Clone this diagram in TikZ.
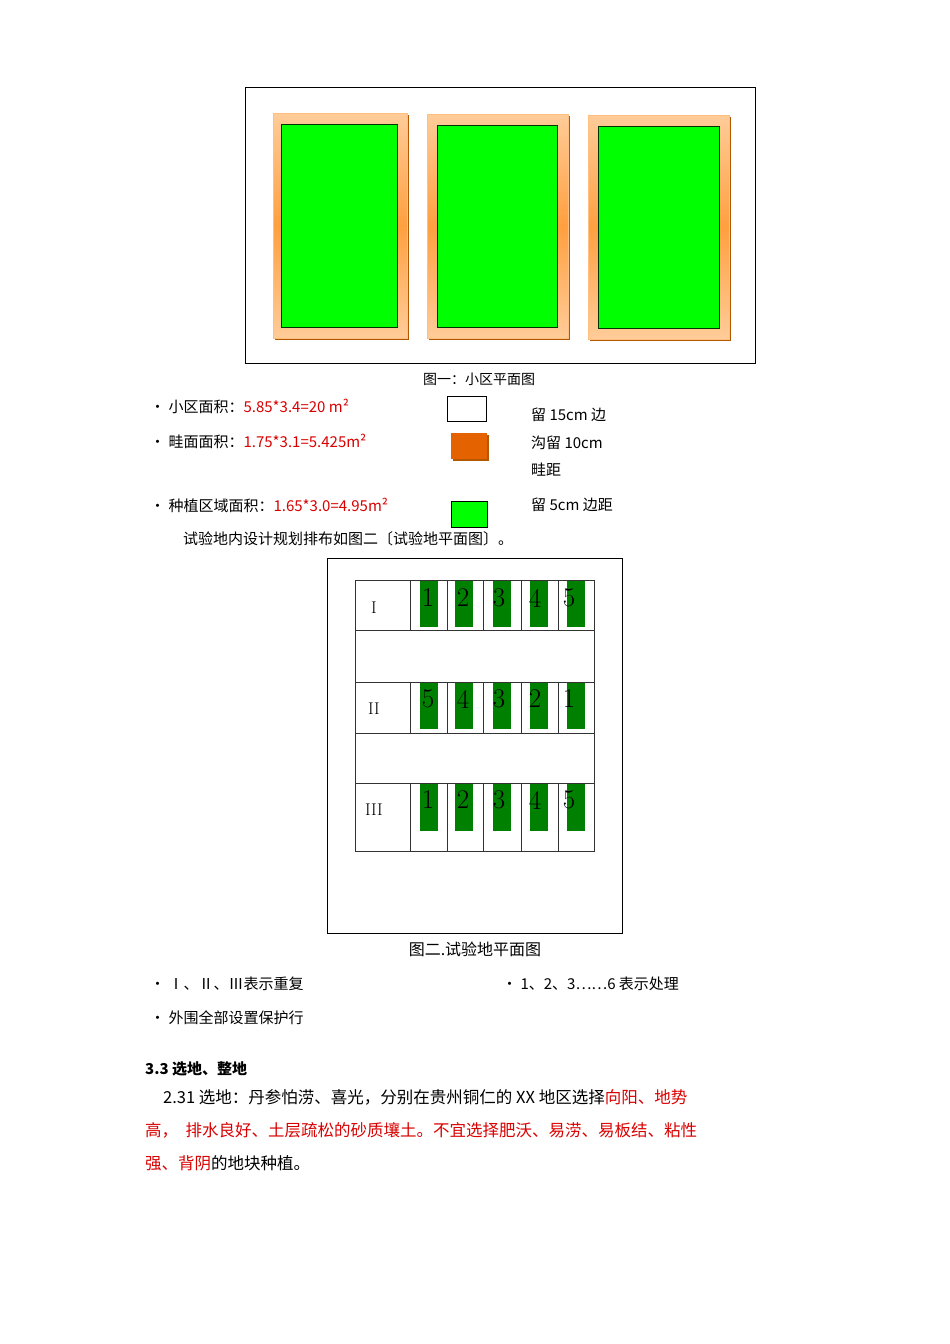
\documentclass[tikz,border=0pt]{standalone}
\usepackage{fontspec}
\newfontfamily\cjk{Noto Sans CJK SC}
\begin{document}
\begin{tikzpicture}[x=1pt,y=-1pt,
  txt/.style={anchor=west,inner sep=0pt,font=\cjk\fontsize{15}{18}\selectfont},
  red/.style={text=red!85!black},
  bed/.style={top color=orange!40!white,bottom color=orange!40!white,middle color=orange!75!white,draw=orange!50!white},
  green/.style={fill=green,draw=black!80!green,line width=0.8pt},
  bar/.style={fill=green!50!black,draw=none},
  dig/.style={font=\fontsize{27}{27}\selectfont,inner sep=0pt},
  cell/.style={draw=black!80,line width=0.6pt}]
\useasboundingbox (0,0) rectangle (950,1344);
% figure 1
\draw[line width=0.8pt] (245,87) rectangle (755,363);
\foreach \a/\b/\c/\d/\e/\f/\g/\h/\n in {273/113/407/338/281/124/397/327/1,427/114/568/338/437/125/557/327/2,588/115/729/339/598/126/719/328/3}{
  \fill[orange!70!black] (\a+2,\b+2) rectangle (\c+2,\d+2);
  \shade[bed] (\a,\b) rectangle (\c,\d);
  \node[green,inner sep=0pt,minimum width=\g-\e,minimum height=\h-\f,anchor=north west] (g\n) at (\e,\f) {};
}
\node[txt,anchor=center,font=\cjk\fontsize{14}{16}\selectfont] (cap1) at (479,379) {图一：小区平面图};
% legend
\node[txt] (b1) at (150,406) {• 小区面积：\textcolor{red!85!black}{5.85*3.4=20 m²}};
\node[txt] (b2) at (150,441) {• 畦面面积：\textcolor{red!85!black}{1.75*3.1=5.425m²}};
\node[txt] (b3) at (150,505) {• 种植区域面积：\textcolor{red!85!black}{1.65*3.0=4.95m²}};
\draw[line width=0.8pt] (447,396) rectangle (486,421);
\fill[orange!70!black] (453,435) rectangle (489,461);
\fill[orange!85!red!90!black] (451,433) rectangle (487,459);
\draw[fill=green,line width=0.8pt] (451,501) rectangle (487,527);
\node[txt] (r1) at (531,415) {留 15cm 边};
\node[txt] (r2) at (531,443) {沟留 10cm};
\node[txt] (r3) at (531,470) {畦距};
\node[txt] (r4) at (531,505) {留 5cm 边距};
\node[txt] (line) at (183,539) {试验地内设计规划排布如图二〔试验地平面图〕。};
% figure 2
\draw[line width=0.8pt] (327,558) rectangle (622,933);
\foreach \y/\h in {580/627,682/729,783/831}{
  \foreach \x in {420,455,493,530,567}{ \fill[green!50!black] (\x,\y) rectangle (\x+18,\h); }
}
\draw[cell] (355,580) rectangle (594,851);
\foreach \y in {630,682,733,783}{ \draw[cell] (355,\y) -- (594,\y); }
\foreach \x in {410,447,483,521,558}{
  \draw[cell] (\x,580) -- (\x,630); \draw[cell] (\x,682) -- (\x,733); \draw[cell] (\x,783) -- (\x,851);
}
\foreach \x/\i/\a/\b in {428/1/1/5,463/2/2/4,499/3/3/3,535/4/4/2,569/5/5/1}{
  \node[dig] (t\i) at (\x,598) {\a};
  \node[dig] (m\i) at (\x,699) {\b};
  \node[dig] (u\i) at (\x,800) {\a};
}
\node[font=\fontsize{17}{17}\selectfont] (R1) at (374,608) {I};
\node[font=\fontsize{17}{17}\selectfont] (R2) at (374,709) {II};
\node[font=\fontsize{17}{17}\selectfont] (R3) at (374,810) {III};
\node[txt,anchor=center,font=\cjk\fontsize{16}{18}\selectfont] (cap2) at (475,949) {图二.试验地平面图};
\node[txt] (n1) at (150,984) {• Ⅰ、Ⅱ、Ⅲ表示重复};
\node[txt] (n2) at (502,984) {• 1、2、3……6 表示处理};
\node[txt] (n3) at (150,1018) {• 外围全部设置保护行};
\node[txt,font=\cjk\bfseries\fontsize{15}{18}\selectfont] (h) at (145,1069) {3.3 选地、整地};
\node[txt,font=\cjk\fontsize{16.5}{20}\selectfont] (p1) at (163,1097) {2.31 选地：丹参怕涝、喜光，分别在贵州铜仁的 XX 地区选择\textcolor{red!85!black}{向阳、地势}};
\node[txt,font=\cjk\fontsize{16.5}{20}\selectfont] (p2) at (145,1130) {\textcolor{red!85!black}{高，\ \ 排水良好、土层疏松的砂质壤土。不宜选择肥沃、易涝、易板结、粘性}};
\node[txt,font=\cjk\fontsize{16.5}{20}\selectfont] (p3) at (145,1163) {\textcolor{red!85!black}{强、背阴}的地块种植。};
\end{tikzpicture}
\end{document}
